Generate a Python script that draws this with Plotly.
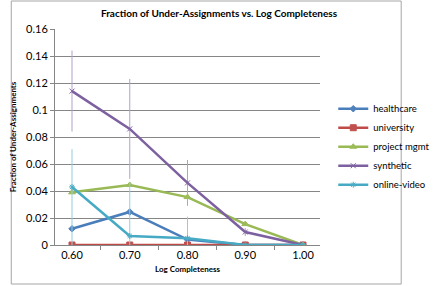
import plotly.graph_objects as go

categories = ["0.60", "0.70", "0.80", "0.90", "1.00"]
healthcare = [0.012, 0.0245, 0.004, 0.0, 0.0]
university = [0.0, 0.0, 0.0, 0.0, 0.0]
project_mgmt = [0.039, 0.0445, 0.0355, 0.0155, 0.0]
synthetic = [0.114, 0.086, 0.046, 0.0096, 0.0]
online_video = [0.043, 0.0067, 0.005, 0.0, 0.0]

synthetic_err = [0.030, 0.037, 0.017, 0.003, 0.0]
online_err_plus = [0.028, 0.040, 0.016, 0.0, 0.0]
online_err_minus = [0.043, 0.0067, 0.005, 0.0, 0.0]

series = [
    ("healthcare", healthcare, "#4A7EBB", "#4F81BD", "diamond", 5, None),
    ("university", university, "#BE4B48", "#C0504D", "square", 6, None),
    ("project mgmt", project_mgmt, "#98B954", "#9BBB59", "triangle-up", 6, None),
    ("synthetic", synthetic, "#7D60A0", "#8064A2", "x-thin", 5,
     dict(type="data", array=synthetic_err, visible=True, color="#B3A2C7", thickness=1, width=0)),
    ("online-video", online_video, "#46AAC5", "#4BACC6", "asterisk", 5,
     dict(type="data", array=online_err_plus, arrayminus=online_err_minus, symmetric=False,
          visible=True, color="#93CDDD", thickness=1, width=0)),
]

fig = go.Figure()
for name, vals, lc, mc, sym, ms, err in series:
    fig.add_trace(go.Scatter(
        x=categories, y=vals, name=name, mode="lines+markers",
        line=dict(color=lc, width=2.5),
        marker=dict(symbol=sym, size=ms, color=mc, line=dict(color=mc, width=1)),
        error_y=err,
    ))

font_family = "Lato, 'Open Sans', sans-serif"
fig.update_layout(
    width=447, height=286,
    margin=dict(l=50, r=100, t=29, b=41),
    paper_bgcolor="white", plot_bgcolor="white",
    font=dict(family=font_family, color="#000000"),
    title=dict(text="<b>Fraction of Under-Assignments vs. Log Completeness</b>",
               x=219/447, xanchor="center", y=1-13/286, yanchor="middle",
               font=dict(size=10, family=font_family)),
    xaxis=dict(type="category", tickson="boundaries", ticks="outside", ticklen=4,
               tickcolor="#868686", showline=True, linecolor="#868686", linewidth=1,
               showgrid=False, tickfont=dict(size=11),
               title=dict(text="<b>Log Completeness</b>", font=dict(size=8), standoff=6)),
    yaxis=dict(range=[0, 0.16], tickvals=[0, 0.02, 0.04, 0.06, 0.08, 0.1, 0.12, 0.14, 0.16],
               ticktext=["0", "0.02", "0.04", "0.06", "0.08", "0.1", "0.12", "0.14", "0.16"],
               ticks="outside", ticklen=4, tickcolor="#868686",
               showline=True, linecolor="#868686", linewidth=1,
               showgrid=True, gridcolor="#868686", gridwidth=1, zeroline=False,
               tickfont=dict(size=11),
               title=dict(text="<b>Fraction of Under-Assignments</b>", font=dict(size=8), standoff=8)),
    legend=dict(x=1.05, xanchor="left", y=0.455, yanchor="middle",
                font=dict(size=9.5), itemwidth=30, tracegroupgap=0,
                bgcolor="rgba(0,0,0,0)"),
    shapes=[dict(type="rect", xref="paper", yref="paper",
                 x0=(1-50)/297, x1=(438-50)/297, y0=(245-284)/216, y1=(245-1)/216,
                 line=dict(color="#A6A6A6", width=1), fillcolor="rgba(0,0,0,0)", layer="below")],
)

fig.write_html("out.html", config={"displayModeBar": False},
               post_script="document.body.style.margin='0';document.body.style.overflow='hidden';")
